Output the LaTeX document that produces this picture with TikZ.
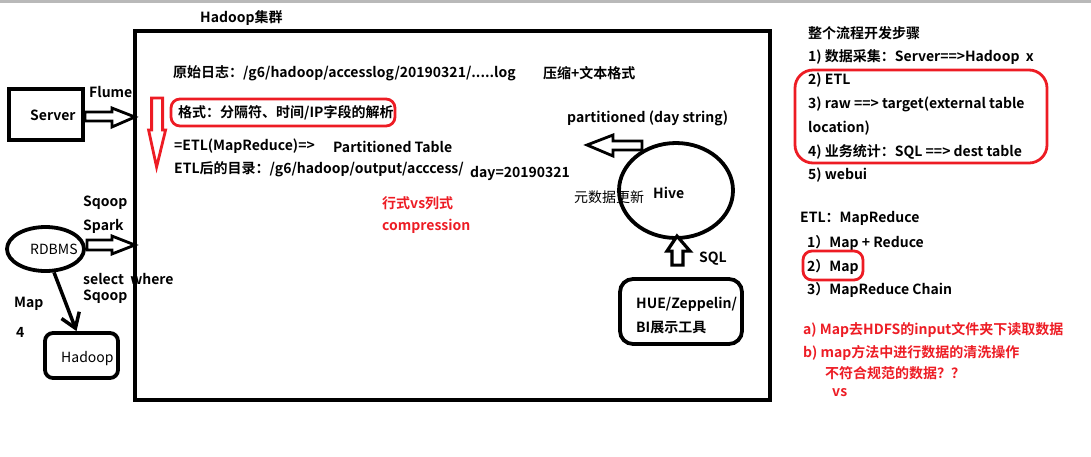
\documentclass[tikz,border=0pt]{standalone}
\usepackage{fontspec}
\setmainfont{Noto Sans CJK SC}[BoldFont={Noto Sans CJK SC Bold}]
\usetikzlibrary{shapes.geometric,arrows.meta,calc}
\definecolor{inkred}{RGB}{237,28,36}
\tikzset{
  txt/.style={anchor=west, inner sep=0pt, font=\fontsize{14}{16}\selectfont\bfseries},
  plaintxt/.style={anchor=west, inner sep=0pt, font=\fontsize{14}{16}\selectfont},
  redtxt/.style={txt, text=inkred},
  inkbox/.style={draw, line width=3.8pt, inner sep=0pt},
  redring/.style={draw=inkred, line width=2.8pt, rounded corners=9pt},
  hollow/.style={draw, line width=2.8pt, fill=white, line join=miter},
}
\begin{document}
\begin{tikzpicture}[x=1pt, y=-1pt]
	\useasboundingbox (0,0) rectangle (1091,456);
	\draw[gray!55, line width=3pt] (0,1.5) -- (1091,1.5);

	% the cluster
	\node[txt] (title) at (200,18) {Hadoop集群};
	\node[inkbox, line width=4.5pt, minimum width=635pt, minimum height=369pt] (cluster) at (452.5,215.5) {};

	\node[txt] (rawlog) at (173,73) {原始日志：/g6/hadoop/accesslog/20190321/.....log};
	\node[txt] (zip) at (543,73) {压缩+文本格式};
	\node[txt] (fmt) at (178,113) {格式：分隔符、时间/IP字段的解析};
	\node[redring, minimum width=224pt, minimum height=27pt] (fmtring) at (283,112.5) {};
	\node[txt] (etl) at (174,146) {=ETL(MapReduce)=>};
	\node[txt] (ptable) at (333,147) {Partitioned Table};
	\node[txt] (outdir) at (174,169) {ETL后的目录：/g6/hadoop/output/acccess/};
	\node[txt] (day) at (470,173) {day=20190321};
	\node[redtxt] (rowcol) at (382,203) {行式vs列式};
	\node[redtxt] (compress) at (382,226) {compression};
	\draw[hollow, draw=inkred, shift={(fmtring.west)}]
		(-18,-14.5) -- (-7,-14.5) -- (-7,17.5) -- (-4,17.5) -- (-13,54.5) -- (-21,17.5) -- (-18,17.5) -- cycle;

	\node[txt] (partday) at (567,118) {partitioned (day string)};
	\node[inkbox, ellipse, minimum width=114pt, minimum height=95pt] (hive) at (676,190.5) {};
	\node[txt] (hivetxt) at (653,193) {Hive};
	\node[plaintxt] (meta) at (574,197) {元数据更新};
	\draw[hollow, shift={(hive.center)}]
		(-34,-49.5) -- (-63,-49.5) -- (-63,-55.5) -- (-89,-45.5) -- (-63,-34.5) -- (-63,-40.5) -- (-34,-40.5) -- cycle;

	\node[inkbox, rounded corners=13pt, minimum width=122pt, minimum height=65pt] (hue) at (681,311.5) {};
	\node[txt] (huetxt) at (636,304) {HUE/Zeppelin/};
	\node[txt] (bitxt) at (636,328) {BI展示工具};
	\draw[hollow, line width=3.2pt, shift={(hue.north)}]
		(-9,-12) -- (-9,-26) -- (-14,-26) -- (-4,-41) -- (9,-26) -- (2,-26) -- (2,-12) -- cycle;
	\node[txt] (sql) at (699,259) {SQL};

	% sources on the left
	\node[inkbox, minimum width=74pt, minimum height=51pt] (server) at (46,114.5) {};
	\node[txt] (servertxt) at (30,115) {Server};
	\node[txt] (flume) at (89,92) {Flume};
	\draw[hollow, shift={(server.east)}]
		(0,-2.5) -- (27,-2.5) -- (27,-6.5) -- (50,2.5) -- (27,12.5) -- (27,6.5) -- (0,6.5) -- cycle;

	\node[txt] (sqoop) at (83,203) {Sqoop};
	\node[txt] (spark) at (83,226) {Spark};
	\node[inkbox, ellipse, minimum width=77pt, minimum height=44pt] (rdbms) at (45.5,249) {};
	\node[plaintxt] (rdbmstxt) at (30,249) {RDBMS};
	\draw[hollow, shift={(rdbms.east)}]
		(1,-9) -- (26,-9) -- (26,-13) -- (49,-4) -- (26,5) -- (26,1) -- (1,1) -- cycle;
	\node[txt] (select) at (83,279) {select\ \ where};
	\node[txt] (sqoop2) at (83,297) {Sqoop};
	\node[txt] (map) at (14,304) {Map};
	\node[txt] (four) at (16,332) {4};
	\node[inkbox, rounded corners=8pt, minimum width=73pt, minimum height=45pt] (hadoop) at (81.5,355.5) {};
	\node[plaintxt] (hadooptxt) at (61,359) {Hadoop};
	\draw[line width=3.5pt, -{Straight Barb[length=14pt, width=19pt]}] (rdbms.-70) -- ($(hadoop.north)+(-5,0)$);

	% steps on the right
	\node[txt] (steps) at (808,33) {整个流程开发步骤};
	\node[txt] (s1) at (808,57) {1) 数据采集：Server==>Hadoop\ \ x};
	\node[txt] (s2) at (808,80) {2) ETL};
	\node[txt] (s3) at (808,104) {3) raw ==> target(external table};
	\node[txt] (s3b) at (808,128) {location)};
	\node[txt] (s4) at (808,152) {4) 业务统计：SQL ==> dest table};
	\node[txt] (s5) at (808,175) {5) webui};
	\node[redring, rounded corners=18pt, minimum width=252pt, minimum height=93pt] (stepsring) at (921,116.5) {};

	\node[txt] (etlmr) at (800,218) {ETL：MapReduce};
	\node[txt] (m1) at (807,243) {1）Map + Reduce};
	\node[txt] (m2) at (807,267) {2）Map};
	\node[redring, minimum width=60pt, minimum height=29pt] (mapring) at (833,265.5) {};
	\node[txt] (m3) at (807,290) {3）MapReduce Chain};
	\node[redtxt] (na) at (803,330) {a) Map去HDFS的input文件夹下读取数据};
	\node[redtxt] (nb) at (803,353) {b) map方法中进行数据的清洗操作};
	\node[redtxt] (nc) at (825,373) {不符合规范的数据？？};
	\node[redtxt] (nd) at (832,393) {vs};
\end{tikzpicture}
\end{document}
